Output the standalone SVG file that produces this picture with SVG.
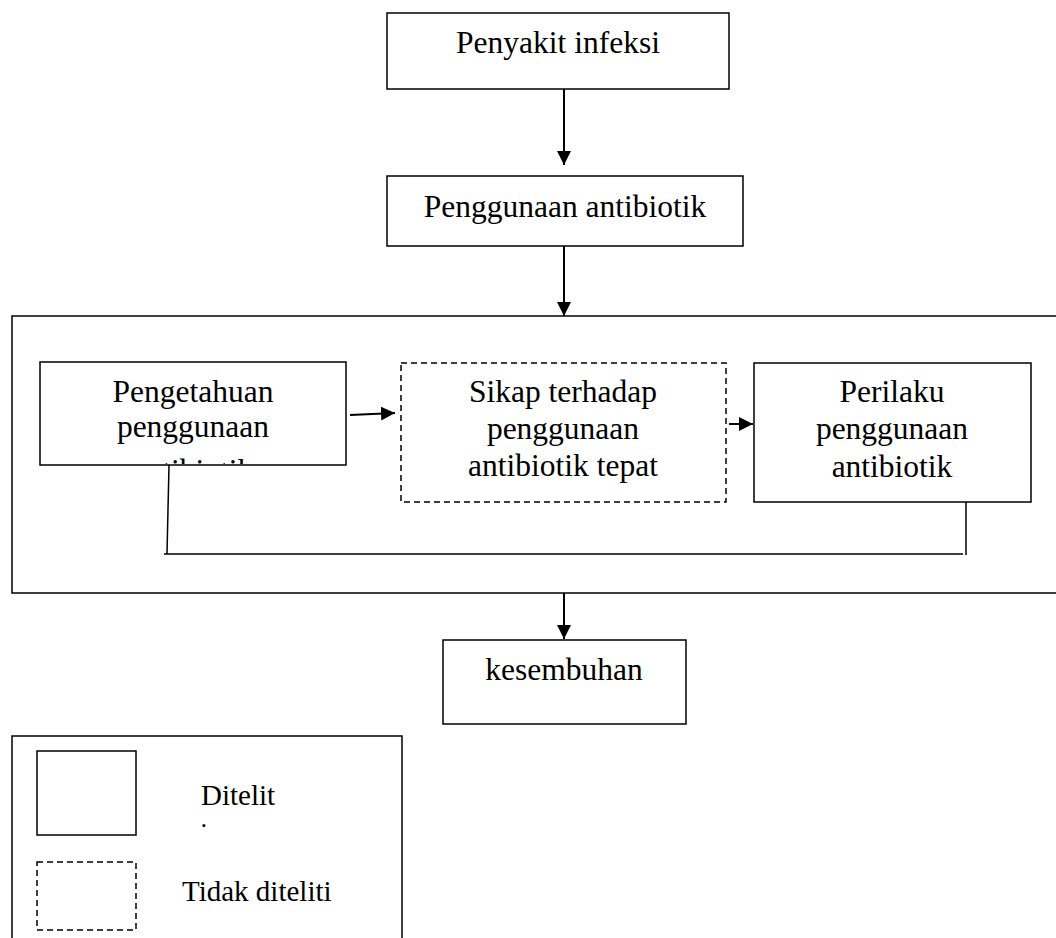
<svg xmlns="http://www.w3.org/2000/svg" width="1056" height="938" viewBox="0 0 1056 938">
<style>
.box{fill:#fff;stroke:#000;stroke-width:1.5}
.dash{fill:#fff;stroke:#000;stroke-width:1.5;stroke-dasharray:6 4}
.line{fill:none;stroke:#000;stroke-width:1.5}
.arr{fill:none;stroke:#000;stroke-width:2}
text{font-family:"Liberation Serif","Times New Roman",serif;font-size:31.5px;fill:#000;text-anchor:middle}
.leg{font-size:29px;text-anchor:start}
</style>
<defs>
<marker id="ah" viewBox="0 0 10 10" refX="10" refY="5" markerWidth="14" markerHeight="14" markerUnits="userSpaceOnUse" orient="auto">
<path d="M0,0 L10,5 L0,10 z" fill="#000"/>
</marker>
<clipPath id="clipP"><rect x="40" y="362" width="306" height="102"/></clipPath>
<clipPath id="clipD"><rect x="180" y="810" width="60" height="17"/></clipPath>
</defs>
<g id="container"><rect class="box" x="12" y="316" width="1060" height="277"/></g>
<g id="n1"><rect class="box" x="387" y="13" width="342" height="76"/><text x="558" y="53">Penyakit infeksi</text></g>
<g id="n2"><rect class="box" x="387" y="176" width="356" height="70"/><text x="565" y="217">Penggunaan antibiotik</text></g>
<g id="n3"><rect class="box" x="40" y="362" width="306" height="103"/>
<g clip-path="url(#clipP)"><text x="193" y="402">Pengetahuan</text><text x="193" y="437">penggunaan</text><text x="193" y="481">antibiotik</text></g></g>
<g id="n4"><rect class="dash" x="401" y="363" width="325" height="139"/><text x="563" y="402">Sikap terhadap</text><text x="563" y="439">penggunaan</text><text x="563" y="476">antibiotik tepat</text></g>
<g id="n5"><rect class="box" x="754" y="363" width="277" height="139"/><text x="892" y="402">Perilaku</text><text x="892" y="439">penggunaan</text><text x="892" y="477">antibiotik</text></g>
<g id="n6"><rect class="box" x="443" y="640" width="243" height="84"/><text x="564" y="680">kesembuhan</text></g>
<g id="connectors">
<line class="arr" x1="564" y1="89" x2="564" y2="165" marker-end="url(#ah)"/>
<line class="arr" x1="564" y1="246" x2="564" y2="316" marker-end="url(#ah)"/>
<line class="arr" x1="350" y1="415" x2="395" y2="413" marker-end="url(#ah)"/>
<line class="arr" x1="729" y1="424" x2="753" y2="424" marker-end="url(#ah)"/>
<line class="arr" x1="564" y1="593" x2="564" y2="639" marker-end="url(#ah)"/>
<polyline class="line" points="169,465 167,554"/>
<line class="line" x1="164" y1="554" x2="963" y2="554"/>
<line class="line" x1="966" y1="502" x2="966" y2="555"/>
</g>
<g id="legend">
<rect class="box" x="12" y="736" width="390" height="220"/>
<rect class="box" x="37" y="751" width="99" height="84"/>
<rect class="dash" x="37" y="862" width="99" height="68"/>
<text class="leg" x="201" y="805">Ditelit</text>
<g clip-path="url(#clipD)"><text class="leg" x="200" y="843">i</text></g>
<text class="leg" x="182" y="901">Tidak diteliti</text>
</g>
</svg>
